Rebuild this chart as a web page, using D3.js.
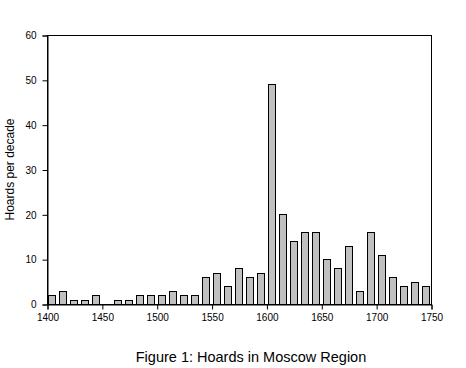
<!DOCTYPE html>
<html><head><meta charset="utf-8">
<script src="https://cdn.jsdelivr.net/npm/d3@7"></script>
<style>body{margin:0;background:#fff}svg{display:block}text{font-family:Arial,"Liberation Sans",sans-serif}</style>
</head><body>
<script>
const decades = [1400,1410,1420,1430,1440,1450,1460,1470,1480,1490,1500,1510,1520,1530,1540,1550,1560,1570,1580,1590,1600,1610,1620,1630,1640,1650,1660,1670,1680,1690,1700,1710,1720,1730,1740];
const hoards  = [2,3,1,1,2,0,1,1,2,2,2,3,2,2,6,7,4,8,6,7,49,20,14,16,16,10,8,13,3,16,11,6,4,5,4];
const xTicks = [1400,1450,1500,1550,1600,1650,1700,1750];
const yTicks = [0,10,20,30,40,50,60];
const yLabel = "Hoards per decade";
const title = "Figure 1: Hoards in Moscow Region";

const W = 466, H = 368;
const L = 47, R = 431, T = 35, B = 304;
const svg = d3.select("body").append("svg").attr("width", W).attr("height", H);
const x = d3.scaleLinear().domain([1400,1750]).range([L,R]);
const y = d3.scaleLinear().domain([0,60]).range([B,T]);

// frame
svg.append("rect").attr("x", L+0.5).attr("y", T+0.5).attr("width", R-L).attr("height", B-T)
  .attr("fill","none").attr("stroke","#000").attr("stroke-width",1);

// bars
const bw = 7;
svg.append("g").selectAll("rect").data(decades.map((d,i)=>({d, v:hoards[i]})).filter(o=>o.v>0)).join("rect")
  .attr("x", o => Math.floor(x(o.d+5) - bw/2) + 0.5)
  .attr("y", o => Math.round(y(o.v)) + 0.5)
  .attr("width", bw)
  .attr("height", o => Math.round(y(0)) - Math.round(y(o.v)))
  .attr("fill","#c0c0c0").attr("stroke","#000").attr("stroke-width",1);

// axes
const xa = svg.append("g").attr("transform", `translate(0.5,${B+0.5})`)
  .call(d3.axisBottom(x).tickValues(xTicks).tickFormat(d3.format("d")).tickSize(5).tickPadding(4));
const ya = svg.append("g").attr("transform", `translate(${L+0.5},0.5)`)
  .call(d3.axisLeft(y).tickValues(yTicks).tickSize(5).tickPadding(6));
[xa,ya].forEach(a=>{
  a.select(".domain").attr("stroke","#000");
  a.selectAll("line").attr("stroke","#000");
  a.selectAll("text").attr("font-size",10).attr("font-family","Arial, 'Liberation Sans', sans-serif").attr("fill","#000");
});

svg.append("text").attr("transform", `translate(14,${(T+B)/2}) rotate(-90)`)
  .attr("text-anchor","middle").attr("font-size",12).text(yLabel);

svg.append("text").attr("x", 251).attr("y", 362).attr("text-anchor","middle")
  .attr("font-size",14.5).text(title);
</script>
</body></html>
